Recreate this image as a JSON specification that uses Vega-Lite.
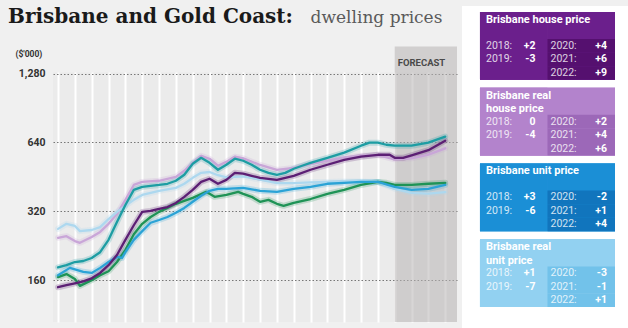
{
  "$schema": "https://vega.github.io/schema/vega-lite/v6.json",
  "background": "#f0f0f0",
  "padding": {"left": 8, "top": 6, "right": 0, "bottom": 0},
  "config": {"view": {"stroke": null}, "font": "Roboto"},
  "resolve": {"scale": {"color": "independent"}},
  "columns": 2,
  "align": "none",
  "spacing": 5,
  "datasets": {
    "lines": [
      {"series": "Brisbane real house price", "year": 1999, "price": 245},
      {"series": "Brisbane real house price", "year": 1999.5, "price": 249},
      {"series": "Brisbane real house price", "year": 2000, "price": 237},
      {"series": "Brisbane real house price", "year": 2000.3, "price": 233},
      {"series": "Brisbane real house price", "year": 2001, "price": 247},
      {"series": "Brisbane real house price", "year": 2001.5, "price": 260},
      {"series": "Brisbane real house price", "year": 2002, "price": 282},
      {"series": "Brisbane real house price", "year": 2002.5, "price": 311},
      {"series": "Brisbane real house price", "year": 2003, "price": 359},
      {"series": "Brisbane real house price", "year": 2003.5, "price": 417},
      {"series": "Brisbane real house price", "year": 2004, "price": 430},
      {"series": "Brisbane real house price", "year": 2005, "price": 435},
      {"series": "Brisbane real house price", "year": 2006, "price": 452},
      {"series": "Brisbane real house price", "year": 2006.5, "price": 481},
      {"series": "Brisbane real house price", "year": 2007, "price": 521},
      {"series": "Brisbane real house price", "year": 2007.5, "price": 559},
      {"series": "Brisbane real house price", "year": 2008, "price": 543},
      {"series": "Brisbane real house price", "year": 2008.5, "price": 506},
      {"series": "Brisbane real house price", "year": 2009, "price": 526},
      {"series": "Brisbane real house price", "year": 2009.5, "price": 554},
      {"series": "Brisbane real house price", "year": 2010, "price": 545},
      {"series": "Brisbane real house price", "year": 2011, "price": 510},
      {"series": "Brisbane real house price", "year": 2012, "price": 485},
      {"series": "Brisbane real house price", "year": 2013, "price": 495},
      {"series": "Brisbane real house price", "year": 2014, "price": 515},
      {"series": "Brisbane real house price", "year": 2015, "price": 532},
      {"series": "Brisbane real house price", "year": 2016, "price": 550},
      {"series": "Brisbane real house price", "year": 2017, "price": 560},
      {"series": "Brisbane real house price", "year": 2018, "price": 563},
      {"series": "Brisbane real house price", "year": 2019, "price": 540},
      {"series": "Brisbane real house price", "year": 2020, "price": 545},
      {"series": "Brisbane real house price", "year": 2021, "price": 566},
      {"series": "Brisbane real house price", "year": 2022, "price": 603},
      {"series": "Brisbane real unit price", "year": 1999, "price": 268},
      {"series": "Brisbane real unit price", "year": 1999.5, "price": 282},
      {"series": "Brisbane real unit price", "year": 2000, "price": 276},
      {"series": "Brisbane real unit price", "year": 2000.3, "price": 262},
      {"series": "Brisbane real unit price", "year": 2001, "price": 265},
      {"series": "Brisbane real unit price", "year": 2001.5, "price": 273},
      {"series": "Brisbane real unit price", "year": 2002, "price": 296},
      {"series": "Brisbane real unit price", "year": 2002.5, "price": 318},
      {"series": "Brisbane real unit price", "year": 2003, "price": 338},
      {"series": "Brisbane real unit price", "year": 2003.5, "price": 359},
      {"series": "Brisbane real unit price", "year": 2004, "price": 377},
      {"series": "Brisbane real unit price", "year": 2005, "price": 393},
      {"series": "Brisbane real unit price", "year": 2006, "price": 405},
      {"series": "Brisbane real unit price", "year": 2006.5, "price": 422},
      {"series": "Brisbane real unit price", "year": 2007, "price": 448},
      {"series": "Brisbane real unit price", "year": 2007.5, "price": 471},
      {"series": "Brisbane real unit price", "year": 2008, "price": 475},
      {"series": "Brisbane real unit price", "year": 2008.5, "price": 460},
      {"series": "Brisbane real unit price", "year": 2009, "price": 450},
      {"series": "Brisbane real unit price", "year": 2010, "price": 455},
      {"series": "Brisbane real unit price", "year": 2011, "price": 440},
      {"series": "Brisbane real unit price", "year": 2012, "price": 425},
      {"series": "Brisbane real unit price", "year": 2013, "price": 425},
      {"series": "Brisbane real unit price", "year": 2014, "price": 428},
      {"series": "Brisbane real unit price", "year": 2015, "price": 430},
      {"series": "Brisbane real unit price", "year": 2016, "price": 432},
      {"series": "Brisbane real unit price", "year": 2017, "price": 432},
      {"series": "Brisbane real unit price", "year": 2018, "price": 430},
      {"series": "Brisbane real unit price", "year": 2019, "price": 401},
      {"series": "Brisbane real unit price", "year": 2020, "price": 385},
      {"series": "Brisbane real unit price", "year": 2021, "price": 382},
      {"series": "Brisbane real unit price", "year": 2022, "price": 388},
      {"series": "Gold Coast unit price", "year": 1999, "price": 165},
      {"series": "Gold Coast unit price", "year": 1999.5, "price": 170},
      {"series": "Gold Coast unit price", "year": 2000, "price": 162},
      {"series": "Gold Coast unit price", "year": 2000.3, "price": 151},
      {"series": "Gold Coast unit price", "year": 2001, "price": 160},
      {"series": "Gold Coast unit price", "year": 2001.5, "price": 168},
      {"series": "Gold Coast unit price", "year": 2002, "price": 175},
      {"series": "Gold Coast unit price", "year": 2002.5, "price": 192},
      {"series": "Gold Coast unit price", "year": 2003, "price": 217},
      {"series": "Gold Coast unit price", "year": 2003.5, "price": 254},
      {"series": "Gold Coast unit price", "year": 2004, "price": 282},
      {"series": "Gold Coast unit price", "year": 2004.5, "price": 302},
      {"series": "Gold Coast unit price", "year": 2005, "price": 318},
      {"series": "Gold Coast unit price", "year": 2005.5, "price": 331},
      {"series": "Gold Coast unit price", "year": 2006, "price": 345},
      {"series": "Gold Coast unit price", "year": 2006.5, "price": 355},
      {"series": "Gold Coast unit price", "year": 2007, "price": 366},
      {"series": "Gold Coast unit price", "year": 2007.8, "price": 389},
      {"series": "Gold Coast unit price", "year": 2008.3, "price": 370},
      {"series": "Gold Coast unit price", "year": 2009, "price": 377},
      {"series": "Gold Coast unit price", "year": 2009.7, "price": 389},
      {"series": "Gold Coast unit price", "year": 2010, "price": 381},
      {"series": "Gold Coast unit price", "year": 2010.5, "price": 370},
      {"series": "Gold Coast unit price", "year": 2011, "price": 352},
      {"series": "Gold Coast unit price", "year": 2011.5, "price": 359},
      {"series": "Gold Coast unit price", "year": 2012, "price": 345},
      {"series": "Gold Coast unit price", "year": 2012.4, "price": 338},
      {"series": "Gold Coast unit price", "year": 2013, "price": 348},
      {"series": "Gold Coast unit price", "year": 2014, "price": 362},
      {"series": "Gold Coast unit price", "year": 2015, "price": 381},
      {"series": "Gold Coast unit price", "year": 2016, "price": 397},
      {"series": "Gold Coast unit price", "year": 2017, "price": 417},
      {"series": "Gold Coast unit price", "year": 2018, "price": 430},
      {"series": "Gold Coast unit price", "year": 2018.5, "price": 426},
      {"series": "Gold Coast unit price", "year": 2019, "price": 417},
      {"series": "Gold Coast unit price", "year": 2020, "price": 417},
      {"series": "Gold Coast unit price", "year": 2021, "price": 422},
      {"series": "Gold Coast unit price", "year": 2022, "price": 426},
      {"series": "Brisbane unit price", "year": 1999, "price": 168},
      {"series": "Brisbane unit price", "year": 1999.7, "price": 181},
      {"series": "Brisbane unit price", "year": 2000.5, "price": 174},
      {"series": "Brisbane unit price", "year": 2001, "price": 172},
      {"series": "Brisbane unit price", "year": 2001.5, "price": 181},
      {"series": "Brisbane unit price", "year": 2002, "price": 192},
      {"series": "Brisbane unit price", "year": 2002.5, "price": 202},
      {"series": "Brisbane unit price", "year": 2002.8, "price": 200},
      {"series": "Brisbane unit price", "year": 2003, "price": 212},
      {"series": "Brisbane unit price", "year": 2003.5, "price": 240},
      {"series": "Brisbane unit price", "year": 2004, "price": 262},
      {"series": "Brisbane unit price", "year": 2004.5, "price": 285},
      {"series": "Brisbane unit price", "year": 2005, "price": 293},
      {"series": "Brisbane unit price", "year": 2005.5, "price": 302},
      {"series": "Brisbane unit price", "year": 2006, "price": 315},
      {"series": "Brisbane unit price", "year": 2006.5, "price": 331},
      {"series": "Brisbane unit price", "year": 2007, "price": 352},
      {"series": "Brisbane unit price", "year": 2007.5, "price": 374},
      {"series": "Brisbane unit price", "year": 2008, "price": 393},
      {"series": "Brisbane unit price", "year": 2008.5, "price": 401},
      {"series": "Brisbane unit price", "year": 2009, "price": 401},
      {"series": "Brisbane unit price", "year": 2010, "price": 405},
      {"series": "Brisbane unit price", "year": 2011, "price": 393},
      {"series": "Brisbane unit price", "year": 2012, "price": 389},
      {"series": "Brisbane unit price", "year": 2013, "price": 401},
      {"series": "Brisbane unit price", "year": 2014, "price": 409},
      {"series": "Brisbane unit price", "year": 2015, "price": 422},
      {"series": "Brisbane unit price", "year": 2016, "price": 426},
      {"series": "Brisbane unit price", "year": 2017, "price": 430},
      {"series": "Brisbane unit price", "year": 2018, "price": 430},
      {"series": "Brisbane unit price", "year": 2019, "price": 409},
      {"series": "Brisbane unit price", "year": 2020, "price": 397},
      {"series": "Brisbane unit price", "year": 2021, "price": 401},
      {"series": "Brisbane unit price", "year": 2022, "price": 417},
      {"series": "Brisbane house price", "year": 1999, "price": 149},
      {"series": "Brisbane house price", "year": 1999.5, "price": 152},
      {"series": "Brisbane house price", "year": 2000, "price": 155},
      {"series": "Brisbane house price", "year": 2000.5, "price": 158},
      {"series": "Brisbane house price", "year": 2001, "price": 163},
      {"series": "Brisbane house price", "year": 2001.5, "price": 172},
      {"series": "Brisbane house price", "year": 2002, "price": 186},
      {"series": "Brisbane house price", "year": 2002.5, "price": 206},
      {"series": "Brisbane house price", "year": 2003, "price": 240},
      {"series": "Brisbane house price", "year": 2003.5, "price": 278},
      {"series": "Brisbane house price", "year": 2004, "price": 318},
      {"series": "Brisbane house price", "year": 2004.5, "price": 321},
      {"series": "Brisbane house price", "year": 2005, "price": 328},
      {"series": "Brisbane house price", "year": 2005.5, "price": 334},
      {"series": "Brisbane house price", "year": 2006, "price": 348},
      {"series": "Brisbane house price", "year": 2006.5, "price": 370},
      {"series": "Brisbane house price", "year": 2007, "price": 397},
      {"series": "Brisbane house price", "year": 2007.5, "price": 430},
      {"series": "Brisbane house price", "year": 2008, "price": 444},
      {"series": "Brisbane house price", "year": 2008.5, "price": 422},
      {"series": "Brisbane house price", "year": 2009, "price": 439},
      {"series": "Brisbane house price", "year": 2009.5, "price": 471},
      {"series": "Brisbane house price", "year": 2010, "price": 467},
      {"series": "Brisbane house price", "year": 2010.5, "price": 457},
      {"series": "Brisbane house price", "year": 2011, "price": 448},
      {"series": "Brisbane house price", "year": 2012, "price": 439},
      {"series": "Brisbane house price", "year": 2013, "price": 457},
      {"series": "Brisbane house price", "year": 2014, "price": 486},
      {"series": "Brisbane house price", "year": 2015, "price": 511},
      {"series": "Brisbane house price", "year": 2016, "price": 537},
      {"series": "Brisbane house price", "year": 2017, "price": 554},
      {"series": "Brisbane house price", "year": 2018, "price": 565},
      {"series": "Brisbane house price", "year": 2018.7, "price": 565},
      {"series": "Brisbane house price", "year": 2019, "price": 548},
      {"series": "Brisbane house price", "year": 2019.5, "price": 548},
      {"series": "Brisbane house price", "year": 2020, "price": 562},
      {"series": "Brisbane house price", "year": 2021, "price": 592},
      {"series": "Brisbane house price", "year": 2022, "price": 651},
      {"series": "Gold Coast house price", "year": 1999, "price": 182},
      {"series": "Gold Coast house price", "year": 1999.5, "price": 186},
      {"series": "Gold Coast house price", "year": 2000, "price": 192},
      {"series": "Gold Coast house price", "year": 2000.5, "price": 194},
      {"series": "Gold Coast house price", "year": 2001, "price": 200},
      {"series": "Gold Coast house price", "year": 2001.5, "price": 212},
      {"series": "Gold Coast house price", "year": 2002, "price": 240},
      {"series": "Gold Coast house price", "year": 2002.5, "price": 287},
      {"series": "Gold Coast house price", "year": 2003, "price": 341},
      {"series": "Gold Coast house price", "year": 2003.5, "price": 397},
      {"series": "Gold Coast house price", "year": 2004, "price": 409},
      {"series": "Gold Coast house price", "year": 2004.5, "price": 413},
      {"series": "Gold Coast house price", "year": 2005, "price": 417},
      {"series": "Gold Coast house price", "year": 2005.5, "price": 422},
      {"series": "Gold Coast house price", "year": 2006, "price": 435},
      {"series": "Gold Coast house price", "year": 2006.5, "price": 462},
      {"series": "Gold Coast house price", "year": 2007, "price": 516},
      {"series": "Gold Coast house price", "year": 2007.5, "price": 548},
      {"series": "Gold Coast house price", "year": 2008, "price": 521},
      {"series": "Gold Coast house price", "year": 2008.5, "price": 486},
      {"series": "Gold Coast house price", "year": 2009, "price": 511},
      {"series": "Gold Coast house price", "year": 2009.5, "price": 543},
      {"series": "Gold Coast house price", "year": 2010, "price": 532},
      {"series": "Gold Coast house price", "year": 2010.5, "price": 511},
      {"series": "Gold Coast house price", "year": 2011, "price": 486},
      {"series": "Gold Coast house price", "year": 2011.5, "price": 471},
      {"series": "Gold Coast house price", "year": 2012, "price": 462},
      {"series": "Gold Coast house price", "year": 2012.5, "price": 471},
      {"series": "Gold Coast house price", "year": 2013, "price": 491},
      {"series": "Gold Coast house price", "year": 2013.5, "price": 506},
      {"series": "Gold Coast house price", "year": 2014, "price": 521},
      {"series": "Gold Coast house price", "year": 2015, "price": 548},
      {"series": "Gold Coast house price", "year": 2016, "price": 577},
      {"series": "Gold Coast house price", "year": 2017, "price": 619},
      {"series": "Gold Coast house price", "year": 2017.5, "price": 638},
      {"series": "Gold Coast house price", "year": 2018, "price": 638},
      {"series": "Gold Coast house price", "year": 2018.5, "price": 625},
      {"series": "Gold Coast house price", "year": 2019, "price": 619},
      {"series": "Gold Coast house price", "year": 2020, "price": 619},
      {"series": "Gold Coast house price", "year": 2021, "price": 638},
      {"series": "Gold Coast house price", "year": 2022, "price": 678}
    ],
    "boxes": [
      {"box": "Brisbane house price", "kind": "title", "col": "L", "line": 1, "text": "Brisbane house price"},
      {"box": "Brisbane house price", "kind": "row", "col": "L", "line": 3, "year": "2018:", "change": "+2"},
      {"box": "Brisbane house price", "kind": "row", "col": "L", "line": 4, "year": "2019:", "change": "-3"},
      {"box": "Brisbane house price", "kind": "row", "col": "R", "line": 3, "year": "2020:", "change": "+4"},
      {"box": "Brisbane house price", "kind": "row", "col": "R", "line": 4, "year": "2021:", "change": "+6"},
      {"box": "Brisbane house price", "kind": "row", "col": "R", "line": 5, "year": "2022:", "change": "+9"},
      {"box": "Brisbane real house price", "kind": "title", "col": "L", "line": 1, "text": "Brisbane real"},
      {"box": "Brisbane real house price", "kind": "title", "col": "L", "line": 2, "text": "house price"},
      {"box": "Brisbane real house price", "kind": "row", "col": "L", "line": 3, "year": "2018:", "change": "0"},
      {"box": "Brisbane real house price", "kind": "row", "col": "L", "line": 4, "year": "2019:", "change": "-4"},
      {"box": "Brisbane real house price", "kind": "row", "col": "R", "line": 3, "year": "2020:", "change": "+2"},
      {"box": "Brisbane real house price", "kind": "row", "col": "R", "line": 4, "year": "2021:", "change": "+4"},
      {"box": "Brisbane real house price", "kind": "row", "col": "R", "line": 5, "year": "2022:", "change": "+6"},
      {"box": "Brisbane unit price", "kind": "title", "col": "L", "line": 1, "text": "Brisbane unit price"},
      {"box": "Brisbane unit price", "kind": "row", "col": "L", "line": 3, "year": "2018:", "change": "+3"},
      {"box": "Brisbane unit price", "kind": "row", "col": "L", "line": 4, "year": "2019:", "change": "-6"},
      {"box": "Brisbane unit price", "kind": "row", "col": "R", "line": 3, "year": "2020:", "change": "-2"},
      {"box": "Brisbane unit price", "kind": "row", "col": "R", "line": 4, "year": "2021:", "change": "+1"},
      {"box": "Brisbane unit price", "kind": "row", "col": "R", "line": 5, "year": "2022:", "change": "+4"},
      {"box": "Brisbane real unit price", "kind": "title", "col": "L", "line": 1, "text": "Brisbane real"},
      {"box": "Brisbane real unit price", "kind": "title", "col": "L", "line": 2, "text": "unit price"},
      {"box": "Brisbane real unit price", "kind": "row", "col": "L", "line": 3, "year": "2018:", "change": "+1"},
      {"box": "Brisbane real unit price", "kind": "row", "col": "L", "line": 4, "year": "2019:", "change": "-7"},
      {"box": "Brisbane real unit price", "kind": "row", "col": "R", "line": 3, "year": "2020:", "change": "-3"},
      {"box": "Brisbane real unit price", "kind": "row", "col": "R", "line": 4, "year": "2021:", "change": "-1"},
      {"box": "Brisbane real unit price", "kind": "row", "col": "R", "line": 5, "year": "2022:", "change": "+1"}
    ]
  },
  "concat": [
    {
      "title": {
        "text": "Brisbane and Gold Coast:",
        "subtitle": "\u200b\u00a0\u00a0\u00a0\u00a0\u00a0\u00a0\u00a0\u00a0\u00a0\u00a0\u00a0\u00a0\u00a0\u00a0\u00a0\u00a0\u00a0\u00a0\u00a0\u00a0\u00a0\u00a0\u00a0\u00a0\u00a0\u00a0\u00a0\u00a0\u00a0\u00a0\u00a0\u00a0\u00a0\u00a0\u00a0\u00a0\u00a0\u00a0\u00a0\u00a0\u00a0\u00a0\u00a0\u00a0\u00a0\u00a0\u00a0\u00a0\u00a0\u00a0\u00a0\u00a0\u00a0\u00a0\u00a0\u00a0dwelling prices",
        "anchor": "start",
        "frame": "group",
        "font": "DejaVu Serif",
        "fontSize": 20,
        "fontWeight": "bold",
        "color": "#1a1a1a",
        "subtitleFont": "DejaVu Serif",
        "subtitleFontSize": 17,
        "subtitleColor": "#5a5a5a",
        "subtitlePadding": -17,
        "offset": -21,
        "dx": -45
      },
      "width": 404,
      "height": 316,
      "view": {"fill": "#ebebeb", "stroke": null},
      "layer": [
        {
          "data": {"values": [{"label": "FORECAST", "start": 2019, "end": 2022.7}]},
          "layer": [
            {
              "mark": {"type": "rect", "fill": "#f0f0f0"},
              "encoding": {
                "y": {"datum": 2525, "type": "quantitative", "scale": {"type": "log", "domain": [105, 2525], "nice": false},
                  "axis": {"values": [160, 320, 640, 1280], "format": ",d", "grid": true, "gridColor": "#777777", "gridDash": [1.5, 2], "gridWidth": 1, "gridOpacity": 1, "ticks": false, "domain": false, "labelFont": "Roboto", "labelFontWeight": "bold", "labelFontSize": 10.5, "labelColor": "#333333", "labelPadding": 8, "title": "($'000)", "titleAngle": 0, "titleAlign": "left", "titleBaseline": "middle", "titleX": -38, "titleY": 47, "titleFont": "Roboto", "titleFontSize": 8.5, "titleFontWeight": "bold", "titleColor": "#333333"}},
                "y2": {"datum": 1292}
              }
            },
            {
              "mark": {"type": "rect", "fill": "#b8b5b5", "opacity": 0.55},
              "encoding": {
                "x": {"field": "start", "type": "quantitative", "scale": {"domain": [1998.7, 2022.7], "nice": false, "zero": false},
                  "axis": {"values": [1999, 2000, 2001, 2002, 2003, 2004, 2005, 2006, 2007, 2008, 2009, 2010, 2011, 2012, 2013, 2014, 2015, 2016, 2017, 2018, 2019, 2020, 2021, 2022], "tickCount": 40, "labels": false, "ticks": false, "domain": false, "grid": true, "gridColor": "#ffffff", "gridWidth": 2, "gridOpacity": 1, "title": null}},
                "x2": {"field": "end"},
                "y": {"datum": 1681, "type": "quantitative"},
                "y2": {"datum": 105}
              }
            },
            {
              "mark": {"type": "text", "align": "left", "baseline": "middle", "dx": 3, "font": "Roboto", "fontWeight": "bold", "fontSize": 9.5, "fill": "#4a4a4a"},
              "encoding": {
                "x": {"field": "start", "type": "quantitative"},
                "y": {"datum": 1420, "type": "quantitative"},
                "text": {"field": "label"}
              }
            }
          ]
        },
        {
          "data": {"name": "lines"},
          "encoding": {
            "x": {
              "field": "year", "type": "quantitative",
              "scale": {"domain": [1998.7, 2022.7], "nice": false, "zero": false},
              "axis": {"values": [1999, 2000, 2001, 2002, 2003, 2004, 2005, 2006, 2007, 2008, 2009, 2010, 2011, 2012, 2013, 2014, 2015, 2016, 2017, 2018, 2019, 2020, 2021, 2022], "tickCount": 40, "labels": false, "ticks": false, "domain": false, "grid": true, "gridColor": "#ffffff", "gridWidth": 2, "gridOpacity": 1, "title": null}
            },
            "y": {
              "field": "price", "type": "quantitative",
              "scale": {"type": "log", "domain": [105, 2525], "nice": false},
              "axis": {"values": [160, 320, 640, 1280], "format": ",d", "grid": true, "gridColor": "#777777", "gridDash": [1.5, 2], "gridWidth": 1, "gridOpacity": 1, "ticks": false, "domain": false, "labelFont": "Roboto", "labelFontWeight": "bold", "labelFontSize": 10.5, "labelColor": "#333333", "labelPadding": 8, "title": "($'000)", "titleAngle": 0, "titleAlign": "left", "titleBaseline": "middle", "titleX": -38, "titleY": 47, "titleFont": "Roboto", "titleFontSize": 8.5, "titleFontWeight": "bold", "titleColor": "#333333"}
            },
            "color": {
              "field": "series", "type": "nominal",
              "scale": {
                "domain": ["Brisbane real house price", "Brisbane real unit price", "Gold Coast unit price", "Brisbane unit price", "Brisbane house price", "Gold Coast house price"],
                "range": ["#c9a6d8", "#add8ef", "#1f9356", "#2ba3d6", "#5c1f74", "#1d9da3"]
              },
              "legend": null
            }
          },
          "layer": [
            {"mark": {"type": "line", "strokeWidth": 6, "strokeOpacity": 0.22, "strokeCap": "round", "strokeJoin": "round"}},
            {"mark": {"type": "line", "strokeWidth": 2.3, "strokeCap": "round", "strokeJoin": "round"}}
          ]
        }
      ]
    },
    {
      "width": 166,
      "height": 322,
      "view": {"fill": "#ffffff", "stroke": null},
      "data": {"name": "boxes"},
      "encoding": {
        "y": {"field": "box", "type": "nominal", "scale": {"domain": ["Brisbane house price", "Brisbane real house price", "Brisbane unit price", "Brisbane real unit price"], "paddingInner": 0.106, "paddingOuter": 0.178, "align": 0.222}, "axis": null},
        "x": {"field": "col", "type": "nominal", "scale": {"domain": ["L", "R"], "paddingInner": 0, "paddingOuter": 0.2296, "align": 0.58}, "axis": null}
      },
      "resolve": {"scale": {"color": "independent"}},
      "layer": [
        {
          "mark": {"type": "rect"},
          "encoding": {
            "color": {"field": "box", "type": "nominal", "scale": {"domain": ["Brisbane house price", "Brisbane real house price", "Brisbane unit price", "Brisbane real unit price"], "range": ["#6b1f8c", "#b383cc", "#1b8fd6", "#92d1f1"]}, "legend": null}
          }
        },
        {
          "transform": [{"filter": "datum.kind === 'row' && datum.col === 'R'"}],
          "mark": {"type": "rect"},
          "encoding": {
            "yOffset": {"field": "line", "type": "ordinal", "scale": {"domain": [1, 2, 3, 4, 5], "paddingInner": 0, "paddingOuter": 0}},
            "color": {"field": "box", "type": "nominal", "scale": {"domain": ["Brisbane house price", "Brisbane real house price", "Brisbane unit price", "Brisbane real unit price"], "range": ["#55106f", "#9c68b8", "#1175bd", "#72c2ea"]}, "legend": null}
          }
        },
        {
          "transform": [{"filter": "datum.kind === 'title'"}],
          "mark": {"type": "text", "align": "left", "baseline": "middle", "dx": 6, "dy": 1, "font": "Roboto", "fontWeight": "bold", "fontSize": 11, "fill": "#ffffff"},
          "encoding": {
            "x": {"field": "col", "type": "nominal", "bandPosition": 0},
            "yOffset": {"field": "line", "type": "ordinal"},
            "text": {"field": "text"}
          }
        },
        {
          "transform": [{"filter": "datum.kind === 'row' && datum.col === 'L'"}],
          "mark": {"type": "text", "align": "left", "baseline": "middle", "dx": 6, "font": "Roboto", "fontSize": 10.5, "fill": "#ffffff", "opacity": 0.8},
          "encoding": {
            "x": {"field": "col", "type": "nominal", "bandPosition": 0},
            "yOffset": {"field": "line", "type": "ordinal"},
            "text": {"field": "year"}
          }
        },
        {
          "transform": [{"filter": "datum.kind === 'row' && datum.col === 'L'"}],
          "mark": {"type": "text", "align": "right", "baseline": "middle", "dx": -12, "font": "Roboto", "fontWeight": "bold", "fontSize": 10.5, "fill": "#ffffff"},
          "encoding": {
            "x": {"field": "col", "type": "nominal", "bandPosition": 1},
            "yOffset": {"field": "line", "type": "ordinal"},
            "text": {"field": "change"}
          }
        },
        {
          "transform": [{"filter": "datum.kind === 'row' && datum.col === 'R'"}],
          "mark": {"type": "text", "align": "left", "baseline": "middle", "dx": 3, "font": "Roboto", "fontSize": 10.5, "fill": "#ffffff", "opacity": 0.8},
          "encoding": {
            "x": {"field": "col", "type": "nominal", "bandPosition": 0},
            "yOffset": {"field": "line", "type": "ordinal"},
            "text": {"field": "year"}
          }
        },
        {
          "transform": [{"filter": "datum.kind === 'row' && datum.col === 'R'"}],
          "mark": {"type": "text", "align": "right", "baseline": "middle", "dx": -8, "font": "Roboto", "fontWeight": "bold", "fontSize": 10.5, "fill": "#ffffff"},
          "encoding": {
            "x": {"field": "col", "type": "nominal", "bandPosition": 1},
            "yOffset": {"field": "line", "type": "ordinal"},
            "text": {"field": "change"}
          }
        }
      ]
    }
  ]
}
